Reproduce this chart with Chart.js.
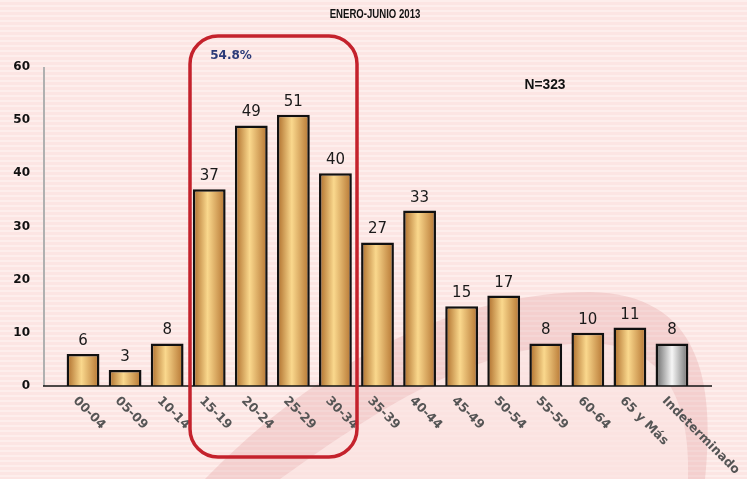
<!DOCTYPE html>
<html>
<head>
<meta charset="utf-8">
<script src="https://cdn.jsdelivr.net/npm/chart.js@4.4.0/dist/chart.umd.min.js"></script>
<style>
  html, body { margin: 0; padding: 0; background: #fce6e4; }
  #wrap { width: 747px; height: 479px; position: relative; }
</style>
</head>
<body>
<div id="wrap"><canvas id="myChart1" width="747" height="479"></canvas></div>
<script>
const categories = ['00-04', '05-09', '10-14', '15-19', '20-24', '25-29', '30-34', '35-39',
    '40-44', '45-49', '50-54', '55-59', '60-64', '65 y Más', 'Indeterminado'];
const casos = [6, 3, 8, 37, 49, 51, 40, 27, 33, 15, 17, 8, 10, 11, 8];
const yTicks = [0, 10, 20, 30, 40, 50, 60];
const title = 'ENERO-JUNIO 2013';
const totalLabel = 'N=323';
const highlightLabel = '54.8%';

const ctx = document.getElementById('myChart1');

// bar fill: horizontal gradient across each bar
function barFill(context) {
    const chart = context.chart;
    const xs = chart.scales.x;
    if (!xs || !chart.chartArea) return '#e0a860';
    const i = context.dataIndex;
    const cx = xs.getPixelForValue(i);
    const w = (chart.chartArea.right - chart.chartArea.left) / categories.length * 0.78;
    const g = chart.ctx.createLinearGradient(cx - w / 2, 0, cx + w / 2, 0);
    if (i === categories.length - 1) {
        g.addColorStop(0, '#666666');
        g.addColorStop(0.5, '#f6f6f6');
        g.addColorStop(1, '#707070');
    } else {
        g.addColorStop(0, '#ab6a28');
        g.addColorStop(0.45, '#fad88d');
        g.addColorStop(1, '#b47330');
    }
    return g;
}

const backdrop = {
    id: 'backdrop',
    beforeDraw(chart) {
        const c = chart.ctx;
        const W = chart.width, H = chart.height;
        c.save();
        c.fillStyle = '#fce5e3';
        c.fillRect(0, 0, W, H);
        c.fillStyle = '#fdeeec';
        for (let y = 0; y < H; y += 5) c.fillRect(0, y, W, 2);
        // swoosh
        c.fillStyle = 'rgba(220,145,145,0.25)';
        c.beginPath();
        c.moveTo(205, 479);
        c.bezierCurveTo(320, 360, 460, 292, 590, 292);
        c.bezierCurveTo(700, 294, 715, 380, 705, 479);
        c.closePath();
        c.fill();
        c.fillStyle = 'rgba(255,240,238,0.6)';
        c.beginPath();
        c.moveTo(280, 479);
        c.bezierCurveTo(390, 400, 480, 345, 590, 343);
        c.bezierCurveTo(665, 345, 690, 400, 688, 479);
        c.closePath();
        c.fill();
        c.restore();
    },
    afterDraw(chart) {
        const c = chart.ctx;
        const xs = chart.scales.x;
        const area = chart.chartArea;
        c.save();
        // axes
        c.strokeStyle = '#b0b0b0';
        c.lineWidth = 2;
        c.beginPath();
        c.moveTo(44, area.top);
        c.lineTo(44, area.bottom);
        c.stroke();
        c.strokeStyle = '#111';
        c.lineWidth = 1.5;
        c.beginPath();
        c.moveTo(43, area.bottom);
        c.lineTo(712, area.bottom);
        c.stroke();

        // rotated category labels
        c.fillStyle = '#555';
        c.font = 'bold 12.5px "DejaVu Sans", sans-serif';
        c.textAlign = 'left';
        c.textBaseline = 'middle';
        categories.forEach((lab, i) => {
            const x = xs.getPixelForValue(i);
            c.save();
            c.translate(x - 8, area.bottom + 13);
            c.rotate(Math.PI / 4);
            c.fillText(lab, 0, 0);
            c.restore();
        });

        // value labels
        const meta = chart.getDatasetMeta(0);
        c.fillStyle = '#1a1a1a';
        c.font = '15px "DejaVu Sans", sans-serif';
        c.textAlign = 'center';
        c.textBaseline = 'alphabetic';
        meta.data.forEach((bar, i) => {
            c.fillText(casos[i], bar.x, bar.y - 9);
        });

        // texts
        c.fillStyle = '#111';
        c.textBaseline = 'middle';
        c.save();
        c.translate(375, 15);
        c.scale(0.8, 1);
        c.font = 'bold 12px "Liberation Sans", Arial, sans-serif';
        c.fillText(title, 0, 0);
        c.restore();
        c.save();
        c.translate(545, 85);
        c.scale(0.92, 1);
        c.font = 'bold 15px "Liberation Sans", Arial, sans-serif';
        c.fillText(totalLabel, 0, 0);
        c.restore();
        c.fillStyle = '#2c3a78';
        c.font = 'bold 12px "DejaVu Sans", sans-serif';
        c.fillText(highlightLabel, 231, 56);

        // highlight box
        c.strokeStyle = '#c4222c';
        c.lineWidth = 3.5;
        c.beginPath();
        c.roundRect(190, 36, 167, 421, 28);
        c.stroke();
        c.restore();
    }
};

new Chart(ctx, {
    type: 'bar',
    data: {
        labels: categories,
        datasets: [{
            label: 'Casos',
            data: casos,
            backgroundColor: barFill,
            borderColor: '#111',
            borderWidth: 2.5,
            borderSkipped: 'bottom',
            categoryPercentage: 1,
            barPercentage: 0.78
        }]
    },
    options: {
        responsive: false,
        animation: false,
        layout: { padding: { top: 67, right: 54, left: 0, bottom: 0 } },
        plugins: {
            legend: { display: false },
            tooltip: { enabled: false }
        },
        scales: {
            x: {
                grid: { display: false },
                border: { display: false },
                ticks: { display: false },
                afterFit(scale) { scale.height = 93; }
            },
            y: {
                min: 0,
                max: 60,
                afterBuildTicks(scale) { scale.ticks = yTicks.map(v => ({ value: v })); },
                afterFit(scale) { scale.width = 62; },
                grid: { display: false, drawTicks: false },
                border: { display: false },
                ticks: {
                    padding: 32,
                    color: '#111',
                    font: { family: '"DejaVu Sans", sans-serif', weight: 'bold', size: 12 }
                }
            }
        }
    },
    plugins: [backdrop]
});
</script>
</body>
</html>
